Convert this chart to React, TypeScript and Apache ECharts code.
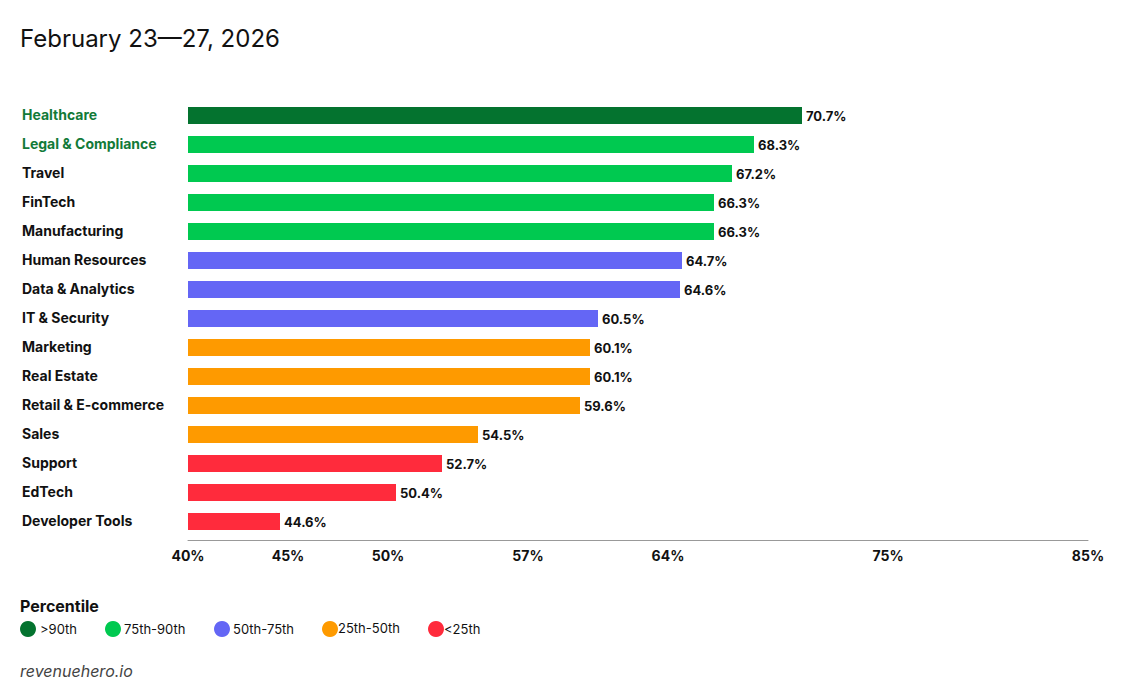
import React, { useEffect, useRef } from "react";
import * as echarts from "echarts";

const categories = [
  "Healthcare",
  "Legal & Compliance",
  "Travel",
  "FinTech",
  "Manufacturing",
  "Human Resources",
  "Data & Analytics",
  "IT & Security",
  "Marketing",
  "Real Estate",
  "Retail & E-commerce",
  "Sales",
  "Support",
  "EdTech",
  "Developer Tools",
];
const values = [70.7, 68.3, 67.2, 66.3, 66.3, 64.7, 64.6, 60.5, 60.1, 60.1, 59.6, 54.5, 52.7, 50.4, 44.6];
// percentile group index per category: 0 >90th, 1 75-90, 2 50-75, 3 25-50, 4 <25
const groups = [0, 1, 1, 1, 1, 2, 2, 2, 3, 3, 3, 3, 4, 4, 4];
const groupNames = [">90th", "75th-90th", "50th-75th", "25th-50th", "<25th"];
const groupColors = ["#04732f", "#00c950", "#6466f5", "#fe9a00", "#ff2b3c"];
const highlighted = ["Healthcare", "Legal & Compliance"];
const tickValues = [40, 45, 50, 57, 64, 75, 85];

const FONT = "Inter, 'Noto Sans', sans-serif";

export default function App() {
  const ref = useRef<HTMLDivElement>(null);
  useEffect(() => {
    document.body.style.margin = "0";
    if (!ref.current) return;
    const chart = echarts.init(ref.current, null, { renderer: "svg" });

    const legendX = [
      { c: 28, t: 40 },
      { c: 113, t: 124 },
      { c: 222, t: 233 },
      { c: 330, t: 338 },
      { c: 436, t: 444 },
    ];
    const legendGraphics: any[] = [];
    groupNames.forEach((name, i) => {
      legendGraphics.push({
        type: "circle",
        shape: { cx: legendX[i].c, cy: 629, r: 8 },
        style: { fill: groupColors[i] },
      });
      legendGraphics.push({
        type: "text",
        x: legendX[i].t,
        y: i === 3 ? 628 : 629,
        style: {
          text: name,
          fill: "#111",
          font: `400 13px ${FONT}`,
          verticalAlign: "middle",
        },
      });
    });

    chart.setOption({
      animation: false,
      textStyle: { fontFamily: FONT },
      grid: { left: 188, right: 43, top: 101, bottom: 164, containLabel: false },
      xAxis: {
        type: "value",
        min: 40,
        max: 85,
        offset: 4,
        axisLine: { show: true, lineStyle: { color: "#999", width: 1 } },
        axisTick: { show: false },
        splitLine: { show: false },
        axisLabel: {
          customValues: tickValues,
          formatter: (v: number) => `${v}%`,
          color: "#111",
          fontWeight: "bold",
          fontSize: 14,
          fontFamily: FONT,
          margin: 8,
        },
      },
      yAxis: {
        type: "category",
        data: categories,
        inverse: true,
        axisLine: { show: false },
        axisTick: { show: false },
        splitLine: { show: false },
        axisLabel: {
          align: "left",
          margin: 166,
          fontSize: 14,
          fontWeight: "bold",
          fontFamily: FONT,
          color: "#111",
          padding: [0, 0, 2, 0],
          formatter: (v: string) => (highlighted.includes(v) ? `{g|${v}}` : `{n|${v}}`),
          rich: {
            g: { color: "#127a38", fontWeight: "bold", fontSize: 14, fontFamily: FONT },
            n: { color: "#111", fontWeight: "bold", fontSize: 14, fontFamily: FONT },
          },
        },
      },
      series: [
        {
          type: "bar",
          barWidth: 17,
          data: values.map((v, i) => ({ value: v, itemStyle: { color: groupColors[groups[i]] } })),
          label: {
            show: true,
            position: "right",
            distance: 4,
            formatter: (p: any) => `${Number(p.value).toFixed(1)}%`,
            color: "#111",
            fontWeight: "bold",
            fontSize: 13,
            fontFamily: FONT,
          },
        },
      ],
      graphic: [
        {
          type: "text",
          x: 20,
          y: 38,
          style: {
            text: "February 23\u201427, 2026",
            fill: "#111",
            font: `400 24px ${FONT}`,
            verticalAlign: "middle",
          },
        },
        {
          type: "text",
          x: 20,
          y: 606,
          style: {
            text: "Percentile",
            fill: "#111",
            font: `700 16px ${FONT}`,
            verticalAlign: "middle",
          },
        },
        ...legendGraphics,
        {
          type: "text",
          x: 20,
          y: 671,
          style: {
            text: "revenuehero.io",
            fill: "#444",
            font: `italic 400 16px ${FONT}`,
            verticalAlign: "middle",
          },
        },
      ],
    });
    return () => chart.dispose();
  }, []);
  return <div ref={ref} style={{ width: 1131, height: 700 }} />;
}
